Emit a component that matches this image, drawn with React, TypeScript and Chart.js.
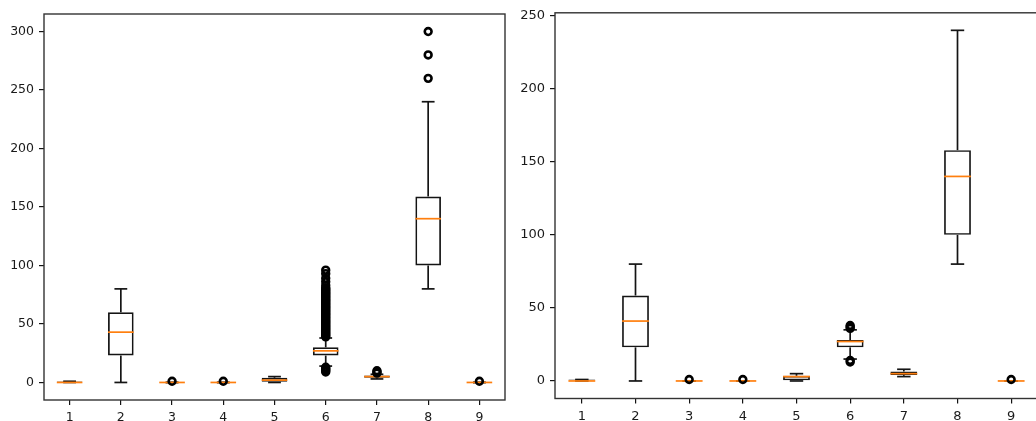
import React, { useEffect, useRef } from 'react';
import { Chart, registerables } from 'chart.js';

Chart.register(...registerables);

// Nine variables, shown as box plots in two panels (before / after trimming).
const categories = ['1', '2', '3', '4', '5', '6', '7', '8', '9'];

// Left panel
const leftLow = [0, 0, 0, 0, 0, 14, 3, 80, 0];
const leftQ1 = [0, 23, 0, 0, 0, 23, 4, 100, 0];
const leftMedian = [0, 43, 0, 0, 2, 27, 5, 140, 0];
const leftQ3 = [1, 60, 0, 0, 4, 30, 6, 159, 0];
const leftHigh = [1, 80, 0, 0, 5, 38, 7, 240, 0];
const leftFliers: number[][] = [
  [],
  [],
  [1],
  [1],
  [],
  [
    96, 93, 89, 86, 83, 81, 80, 79, 78, 77, 76, 75, 74, 73, 72, 71, 70, 69, 68, 67, 66, 65, 64, 63,
    62, 61, 60, 59, 58, 57, 56, 55, 54, 53, 52, 51, 50, 49, 48, 47, 46, 45, 44, 43, 42, 41, 40, 39,
    13, 12, 11, 10, 9,
  ],
  [8, 9, 10],
  [300, 280, 260],
  [1],
];
const leftYTicks = [0, 50, 100, 150, 200, 250, 300];

// Right panel
const rightLow = [0, 0, 0, 0, 0, 15, 3, 80, 0];
const rightQ1 = [0, 23, 0, 0, 0, 23, 4, 100, 0];
const rightMedian = [0, 41, 0, 0, 3, 27, 5, 140, 0];
const rightQ3 = [1, 58.5, 0, 0, 3.5, 28, 6.5, 158, 0];
const rightHigh = [1, 80, 0, 0, 5, 35, 8, 240, 0];
const rightFliers: number[][] = [
  [],
  [],
  [1],
  [1],
  [],
  [38, 37, 36, 14, 13],
  [],
  [],
  [1],
];
const rightYTicks = [0, 50, 100, 150, 200, 250];

const INK = '#141414';
const MEDIAN = '#ff7f0e';
const FONT = 'DejaVu Sans';

type Stats = {
  low: number[];
  q1: number[];
  med: number[];
  q3: number[];
  high: number[];
  fliers: number[][];
};

type PanelProps = {
  stats: Stats;
  left: number;
  width: number;
  yMin: number;
  yMax: number;
  yTicks: number[];
  yAxisWidth: number;
  xAxisHeight: number;
  padTop: number;
  padRight: number;
  fontSize: number;
};

// Whiskers, caps and median lines, drawn right after the box bars
function whiskerPlugin(stats: Stats) {
  return {
    id: 'boxWhiskers',
    afterDatasetDraw(chart: any, args: any) {
      if (args.index !== 0) return;
      const { ctx } = chart;
      const x = chart.scales.x;
      const y = chart.scales.y;
      const step = x.getPixelForValue(1) - x.getPixelForValue(0);
      const halfBox = step * 0.25;
      const halfCap = step * 0.125;
      const seg = (x0: number, y0: number, x1: number, y1: number) => {
        ctx.beginPath();
        ctx.moveTo(x0, y0);
        ctx.lineTo(x1, y1);
        ctx.stroke();
      };
      ctx.save();
      ctx.lineWidth = 1.7;
      ctx.lineCap = 'butt';
      categories.forEach((_, i) => {
        const cx = x.getPixelForValue(i);
        const yLow = y.getPixelForValue(stats.low[i]);
        const yHigh = y.getPixelForValue(stats.high[i]);
        const yQ1 = y.getPixelForValue(stats.q1[i]);
        const yQ3 = y.getPixelForValue(stats.q3[i]);
        const yMed = y.getPixelForValue(stats.med[i]);
        ctx.strokeStyle = INK;
        seg(cx, yQ3, cx, yHigh);
        seg(cx, yQ1, cx, yLow);
        seg(cx - halfCap, yHigh, cx + halfCap, yHigh);
        seg(cx - halfCap, yLow, cx + halfCap, yLow);
        ctx.strokeStyle = MEDIAN;
        seg(cx - halfBox, yMed, cx + halfBox, yMed);
      });
      ctx.restore();
    },
  };
}

// Axes frame on all four sides
const framePlugin = {
  id: 'axesFrame',
  afterDraw(chart: any) {
    const { ctx, chartArea: a } = chart;
    ctx.save();
    ctx.strokeStyle = '#333333';
    ctx.lineWidth = 1.4;
    ctx.strokeRect(a.left, a.top, a.right - a.left, a.bottom - a.top);
    ctx.restore();
  },
};

function BoxPanel(props: PanelProps) {
  const ref = useRef<HTMLCanvasElement | null>(null);

  useEffect(() => {
    if (!ref.current) return;
    const { stats } = props;
    const boxes = categories.map((_, i) => [stats.q1[i], stats.q3[i]]);
    const fliers: { x: string; y: number }[] = [];
    stats.fliers.forEach((vals, i) => vals.forEach((v) => fliers.push({ x: categories[i], y: v })));

    const tickFont = { family: FONT, size: props.fontSize };

    const chart = new Chart(ref.current, {
      type: 'bar',
      data: {
        labels: categories,
        datasets: [
          {
            type: 'bar',
            data: boxes as any,
            backgroundColor: 'rgba(255,255,255,0)',
            borderColor: INK,
            borderWidth: 1.7,
            borderSkipped: false,
            barPercentage: 0.5,
            categoryPercentage: 1,
            order: 2,
          },
          {
            type: 'scatter',
            data: fliers as any,
            pointStyle: 'circle',
            pointRadius: 3.4,
            pointBorderWidth: 2.6,
            pointBorderColor: '#000000',
            pointBackgroundColor: 'rgba(255,255,255,0)',
            showLine: false,
            order: 1,
          } as any,
        ],
      },
      options: {
        responsive: false,
        animation: false,
        events: [],
        layout: { padding: { left: 0, right: props.padRight, top: props.padTop, bottom: 0 } },
        plugins: { legend: { display: false }, tooltip: { enabled: false } },
        scales: {
          x: {
            type: 'category',
            offset: true,
            grid: {
              display: true,
              drawOnChartArea: false,
              drawTicks: true,
              tickLength: 5,
              color: INK,
              lineWidth: 1.2,
              offset: false,
            },
            border: { display: false },
            ticks: { color: '#1a1a1a', font: tickFont, padding: 5, maxRotation: 0, autoSkip: false },
            afterFit: (s: any) => {
              s.height = props.xAxisHeight;
            },
          },
          y: {
            type: 'linear',
            min: props.yMin,
            max: props.yMax,
            bounds: 'data',
            grid: {
              display: true,
              drawOnChartArea: false,
              drawTicks: true,
              tickLength: 5,
              color: INK,
              lineWidth: 1.2,
            },
            border: { display: false },
            ticks: { color: '#1a1a1a', font: tickFont, padding: 5 },
            afterBuildTicks: (s: any) => {
              s.ticks = props.yTicks.map((v) => ({ value: v }));
            },
            afterFit: (s: any) => {
              s.width = props.yAxisWidth;
            },
          },
        },
      } as any,
      plugins: [whiskerPlugin(stats), framePlugin],
    });
    return () => chart.destroy();
  }, []);

  return (
    <canvas
      ref={ref}
      width={props.width}
      height={421}
      style={{ position: 'absolute', left: props.left, top: 0, display: 'block' }}
    />
  );
}

export default function App() {
  const leftStats: Stats = {
    low: leftLow,
    q1: leftQ1,
    med: leftMedian,
    q3: leftQ3,
    high: leftHigh,
    fliers: leftFliers,
  };
  const rightStats: Stats = {
    low: rightLow,
    q1: rightQ1,
    med: rightMedian,
    q3: rightQ3,
    high: rightHigh,
    fliers: rightFliers,
  };
  return (
    <div
      style={{
        position: 'fixed',
        left: 0,
        top: 0,
        width: 1036,
        height: 421,
        overflow: 'hidden',
        background: '#ffffff',
      }}
    >
      <BoxPanel
        stats={leftStats}
        left={0}
        width={520}
        yMin={-15}
        yMax={315}
        yTicks={leftYTicks}
        yAxisWidth={44}
        xAxisHeight={21}
        padTop={14}
        padRight={15}
        fontSize={12.5}
      />
      <BoxPanel
        stats={rightStats}
        left={516}
        width={560}
        yMin={-12}
        yMax={252}
        yTicks={rightYTicks}
        yAxisWidth={39}
        xAxisHeight={22.5}
        padTop={11}
        padRight={38}
        fontSize={13}
      />
    </div>
  );
}
